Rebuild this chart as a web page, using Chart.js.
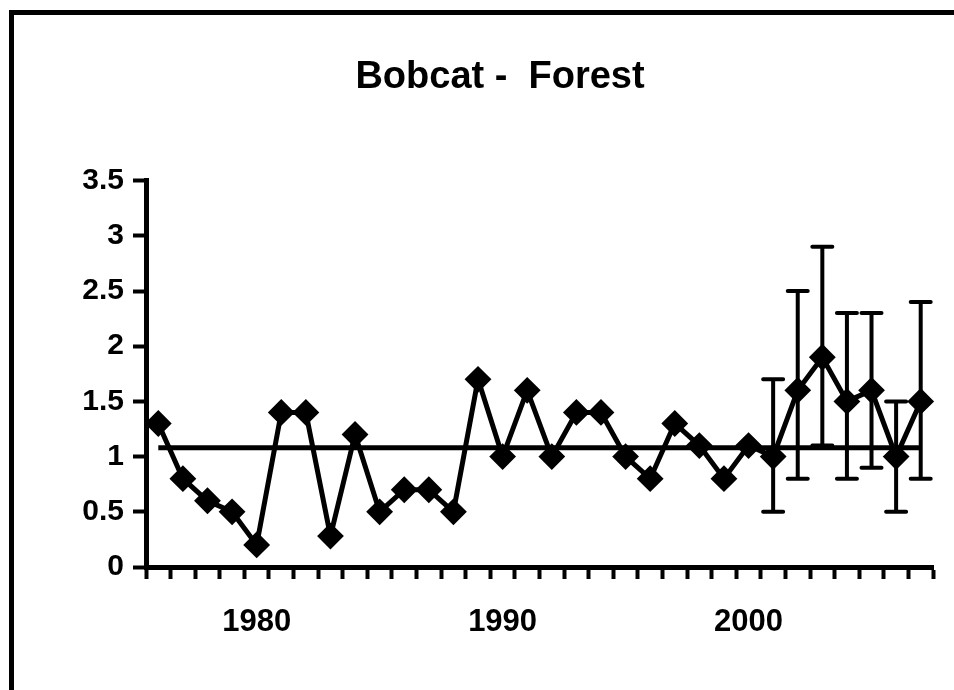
<!DOCTYPE html>
<html>
<head>
<meta charset="utf-8">
<script src="https://cdn.jsdelivr.net/npm/chart.js@4/dist/chart.umd.min.js"></script>
<style>
  html, body { margin: 0; padding: 0; background: #fff; }
  #wrap { position: relative; width: 954px; height: 690px; overflow: hidden; }
  #frame { position: absolute; left: 9px; top: 10px; width: 1000px; height: 800px;
           border-left: 5px solid #000; border-top: 5px solid #000; pointer-events: none; }
  canvas { position: absolute; left: 0; top: 0; }
</style>
</head>
<body>
<div id="wrap">
  <canvas id="chart1" width="954" height="690"></canvas>
  <div id="frame"></div>
</div>
<script>
// survey index per year, with error bars for the later years
const years = [1976, 1977, 1978, 1979, 1980, 1981, 1982, 1983, 1984, 1985,
               1986, 1987, 1988, 1989, 1990, 1991, 1992, 1993, 1994, 1995,
               1996, 1997, 1998, 1999, 2000, 2001, 2002, 2003, 2004, 2005,
               2006, 2007];
const indexValues = [1.3, 0.8, 0.6, 0.5, 0.2, 1.4, 1.4, 0.28, 1.2, 0.5,
                     0.7, 0.7, 0.5, 1.7, 1.0, 1.6, 1.0, 1.4, 1.4, 1.0,
                     0.8, 1.3, 1.1, 0.8, 1.1, 1.0, 1.6, 1.9, 1.5, 1.6,
                     1.0, 1.5];
const errUpper = [null, null, null, null, null, null, null, null, null, null,
                  null, null, null, null, null, null, null, null, null, null,
                  null, null, null, null, null, 1.7, 2.5, 2.9, 2.3, 2.3,
                  1.5, 2.4];
const errLower = [null, null, null, null, null, null, null, null, null, null,
                  null, null, null, null, null, null, null, null, null, null,
                  null, null, null, null, null, 0.5, 0.8, 1.1, 0.8, 0.9,
                  0.5, 0.8];
const longTermMean = 1.08;
const yTicks = [0, 0.5, 1, 1.5, 2, 2.5, 3, 3.5];
const labelledYears = [1980, 1990, 2000];

const fontFamily = "'Liberation Sans', Arial, sans-serif";

// vertical whiskers with caps, placed through the chart's own scales
const errorBars = {
  id: 'errorBars',
  afterDatasetsDraw(chart) {
    const x = chart.scales.x;
    const y = chart.scales.y;
    const ctx = chart.ctx;
    ctx.save();
    ctx.strokeStyle = '#000';
    ctx.lineWidth = 4;
    ctx.lineCap = 'round';
    years.forEach((yr, i) => {
      if (errUpper[i] == null || errLower[i] == null) return;
      const px = x.getPixelForValue(i);
      const top = y.getPixelForValue(errUpper[i]);
      const bot = y.getPixelForValue(errLower[i]);
      ctx.beginPath();
      ctx.moveTo(px, top); ctx.lineTo(px, bot);
      ctx.moveTo(px - 10, top); ctx.lineTo(px + 10, top);
      ctx.moveTo(px - 10, bot); ctx.lineTo(px + 10, bot);
      ctx.stroke();
    });
    ctx.restore();
  }
};

const ctx = document.getElementById('chart1').getContext('2d');
new Chart(ctx, {
  type: 'line',
  data: {
    labels: years,
    datasets: [
      {
        label: 'Index',
        data: indexValues,
        borderColor: '#000',
        backgroundColor: '#000',
        borderWidth: 5,
        pointStyle: 'rectRot',
        pointRadius: 12,
        pointBorderWidth: 2,
        tension: 0,
        clip: false
      },
      {
        label: 'Mean',
        data: years.map(() => longTermMean),
        borderColor: '#000',
        borderWidth: 5,
        pointRadius: 0,
        tension: 0
      }
    ]
  },
  options: {
    responsive: false,
    animation: false,
    layout: { padding: { left: 67, right: 21, top: 55, bottom: 53 } },
    plugins: {
      legend: { display: false },
      tooltip: { enabled: false },
      title: {
        display: true,
        text: 'Bobcat -  Forest',
        color: '#000',
        font: { family: fontFamily, size: 38, weight: 'bold' },
        padding: { top: 0, bottom: 80 }
      }
    },
    scales: {
      x: {
        type: 'category',
        offset: true,
        afterFit(scale) { scale.height = 70; },
        border: { display: true, color: '#000', width: 5 },
        grid: { offset: true, drawOnChartArea: false, drawTicks: true,
                tickLength: 12, tickWidth: 4, tickColor: '#000' },
        ticks: {
          autoSkip: false,
          maxRotation: 0,
          padding: 25,
          color: '#000',
          font: { family: fontFamily, size: 31, weight: 'bold' },
          callback(value, index) {
            const yr = years[index];
            return labelledYears.includes(yr) ? String(yr) : '';
          }
        }
      },
      y: {
        min: 0,
        max: 3.5,
        afterFit(scale) { scale.width = 79; },
        afterBuildTicks(scale) { scale.ticks = yTicks.map(v => ({ value: v })); },
        border: { display: true, color: '#000', width: 5 },
        grid: { drawOnChartArea: false, drawTicks: true,
                tickLength: 13, tickWidth: 4, tickColor: '#000' },
        ticks: {
          padding: 9,
          color: '#000',
          font: { family: fontFamily, size: 30, weight: 'bold' },
          callback: value => String(value)
        }
      }
    }
  },
  plugins: [errorBars]
});
</script>
</body>
</html>
